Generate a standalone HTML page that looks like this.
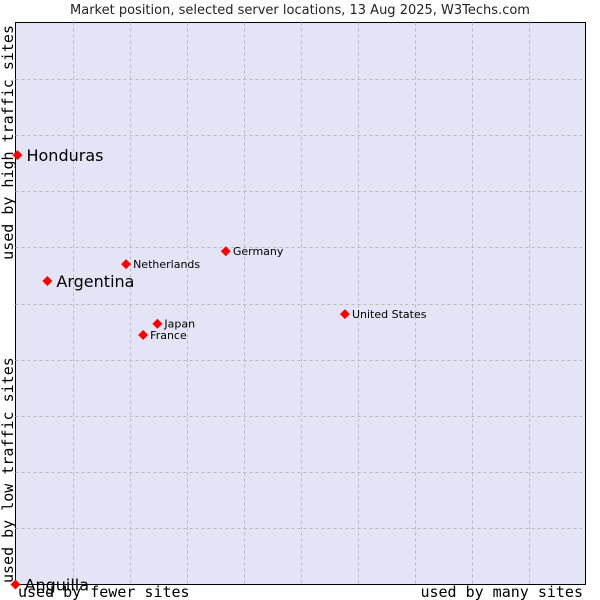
<!DOCTYPE html>
<html><head><meta charset="utf-8"><style>
html,body{margin:0;padding:0;background:#fff;}
svg{display:block;}
</style></head><body>
<svg id="chart" width="600" height="600" xmlns="http://www.w3.org/2000/svg" font-family="'DejaVu Sans', 'Liberation Sans', sans-serif">
<text x="300" y="14" text-anchor="middle" font-size="13" fill="#222">Market position, selected server locations, 13 Aug 2025, W3Techs.com</text>
<rect x="15.5" y="22.5" width="570" height="562" fill="#e3e5f7" stroke="#000" stroke-width="1"/>
<g id="grid"></g>
<g id="points"></g>
<text x="18" y="597" font-family="'DejaVu Sans Mono', 'Liberation Mono', monospace" font-size="15" fill="#000">used by fewer sites</text>
<text x="583" y="597" text-anchor="end" font-family="'DejaVu Sans Mono', 'Liberation Mono', monospace" font-size="15" fill="#000">used by many sites</text>
<text transform="translate(13,25) rotate(-90)" text-anchor="end" font-family="'DejaVu Sans Mono', 'Liberation Mono', monospace" font-size="15" fill="#000">used by high traffic sites</text>
<text transform="translate(13,583) rotate(-90)" font-family="'DejaVu Sans Mono', 'Liberation Mono', monospace" font-size="15" fill="#000">used by low traffic sites</text>
</svg>
<script>
const names = ["Honduras","Argentina","Netherlands","Germany","United States","Japan","France","Anguilla"];
const xVals = [0.35,5.6,19.4,36.9,57.8,24.9,22.4,0];
const yVals = [76.4,54.0,57.0,59.3,48.1,46.4,44.4,0];
const bigLabel = [true,true,false,false,false,false,false,true];
const NS="http://www.w3.org/2000/svg";
const X0=15.5,X1=585.5,Y0=584.5,Y1=22.5;
function xs(v){return X0+(X1-X0)*v/100;}
function ys(v){return Y0-(Y0-Y1)*v/100;}
const grid=document.getElementById('grid');
for(let i=1;i<10;i++){
  const gx=Math.round(X0+(X1-X0)*i/10)+0.5;
  const l=document.createElementNS(NS,'line');
  
  
  l.setAttribute('x1',gx);l.setAttribute('x2',gx);l.setAttribute('y1',Y1);l.setAttribute('y2',Y0);
  l.setAttribute('stroke','#bbb');l.setAttribute('stroke-dasharray','3,3');
  grid.appendChild(l);
  const gy=Math.round(Y1+(Y0-Y1)*i/10)+0.5;
  const h=document.createElementNS(NS,'line');
  
  
  h.setAttribute('x1',X0);h.setAttribute('x2',X1);h.setAttribute('y1',gy);h.setAttribute('y2',gy);
  h.setAttribute('stroke','#bbb');h.setAttribute('stroke-dasharray','3,3');
  grid.appendChild(h);
}
const pts=document.getElementById('points');
names.forEach((n,i)=>{
  const cx=xs(xVals[i]),cy=ys(yVals[i]);
  const d=document.createElementNS(NS,'path');
  
  
  d.setAttribute('d',`M${cx-5},${cy} L${cx},${cy-5} L${cx+5},${cy} L${cx},${cy+5} Z`);
  d.setAttribute('fill','#f00');
  pts.appendChild(d);
  const t=document.createElementNS(NS,'text');
  
  
  t.setAttribute('x',cx+(bigLabel[i]?9:7));
  t.setAttribute('y',cy+(bigLabel[i]?6:4));
  t.setAttribute('font-size',bigLabel[i]?16:11);
  t.setAttribute('fill','#000');
  t.textContent=n;
  pts.appendChild(t);
});
</script>
</body></html>
